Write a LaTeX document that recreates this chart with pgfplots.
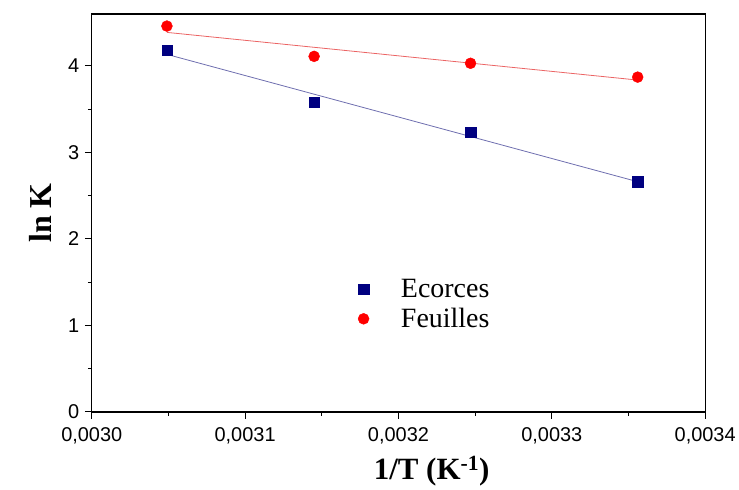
\documentclass[border=0pt]{standalone}
\usepackage{pgfplots}
\pgfplotsset{compat=1.18}
\usepackage{fontspec}
\setmainfont{Liberation Serif}
\setsansfont{Liberation Sans}
\definecolor{navy}{RGB}{0,0,128}
\definecolor{fitblue}{RGB}{110,110,175}
\definecolor{fitred}{RGB}{235,100,100}

\begin{document}
\begin{tikzpicture}
\begin{axis}[
  width=615pt, height=399pt, scale only axis,
  xmin=0.0030, xmax=0.0034, ymin=0, ymax=4.6,
  scaled x ticks=false, scaled y ticks=false,
  xtick={0.0030,0.0031,0.0032,0.0033,0.0034},
  xticklabels={{0,0030},{0,0031},{0,0032},{0,0033},{0,0034}},
  minor x tick num=1,
  ytick={0,1,2,3,4}, yticklabels={0,1,2,3,4},
  minor y tick num=1,
  tick pos=left, tick align=outside,
  major tick length=7pt, minor tick length=4pt,
  axis line style={line width=1.3pt},
  tick style={black, line width=1pt},
  ticklabel style={font=\sffamily\fontsize{20}{20}\selectfont},
  xticklabel style={yshift=-5pt},
  yticklabel style={xshift=-2pt},
  xlabel={\textbf{1/T (K\textsuperscript{-1})}},
  ylabel={\textbf{ln K}},
  xlabel style={at={(axis description cs:0.554,-0.148)}, anchor=center, font=\fontsize{31}{31}\selectfont},
  ylabel style={at={(axis description cs:-0.084,0.5)}, anchor=center, font=\fontsize{32}{32}\selectfont},
  legend style={at={(axis description cs:0.429,0.343)}, anchor=north west, draw=none, fill=none,
    font=\fontsize{28}{28}\selectfont, column sep=30pt, row sep=5pt},
  legend cell align=left,
]
\addplot[fitblue, line width=0.8pt, forget plot] coordinates {(0.003049,4.133) (0.003356,2.661)};
\addplot[fitred, line width=0.8pt, forget plot] coordinates {(0.003049,4.387) (0.003356,3.836)};
\addplot[only marks, mark=square*, mark size=5.2pt, navy, mark options={fill=navy, draw=navy}]
  coordinates {(0.003049,4.18) (0.003145,3.58) (0.003247,3.23) (0.003356,2.66)};
\addlegendentry{Ecorces}
\addplot[only marks, mark=*, mark size=5.5pt, red, mark options={fill=red, draw=red}]
  coordinates {(0.003049,4.46) (0.003145,4.11) (0.003247,4.03) (0.003356,3.87)};
\addlegendentry{Feuilles}
\end{axis}
\path (current axis.south west) ++(-92pt,-76pt) rectangle ++(739pt,489pt);
\end{tikzpicture}
\end{document}
